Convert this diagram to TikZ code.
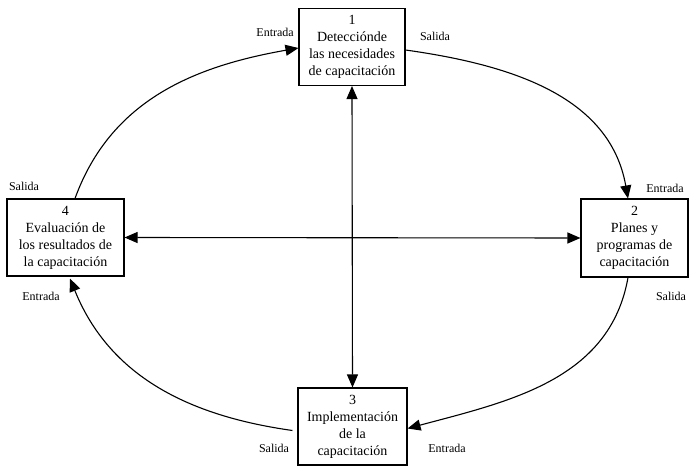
\documentclass[tikz,border=0pt]{standalone}
\usepackage{fontspec}
\setmainfont{Liberation Serif}
\usetikzlibrary{arrows.meta,calc}
\begin{document}
\begin{tikzpicture}[x=1pt,y=1pt,
  stage/.style={draw,line width=1.1pt,align=center,inner sep=0pt,
    font=\fontsize{14}{17}\selectfont},
  tag/.style={inner sep=0pt,font=\fontsize{12}{14}\selectfont},
  flow/.style={line width=1.1pt,-{Triangle[length=13pt,width=11pt]}},
  link/.style={line width=1.1pt,{Triangle[length=13pt,width=11pt]}-{Triangle[length=13pt,width=11pt]}}]
\useasboundingbox (0,0) rectangle (689,467);

% the four stages
\node[stage,minimum width=106pt,minimum height=77pt] (b1) at (352,420)
  {1\\Detecciónde\\las necesidades\\de capacitación};
\node[stage,minimum width=107pt,minimum height=78pt] (b2) at (634.5,229)
  {2\\Planes y\\programas de\\capacitación};
\node[stage,minimum width=109pt,minimum height=77pt] (b3) at (352.5,40.5)
  {3\\Implementación\\de la\\capacitación};
\node[stage,minimum width=117pt,minimum height=77pt] (b4) at (65.5,229.5)
  {4\\Evaluación de\\los resultados  de\\la capacitación};

% cross links through the centre
\draw[link] (b4.east) -- (b2.west);
\draw[link] (b1.south) -- (b3.north);

% cycle around the stages
\draw[flow] ($(b4.north)+(9.5,0)$) to[out=70,in=190] ($(b1.west)+(0,-1)$);
\draw[flow] ($(b1.east)+(0,-3)$) to[out=-8,in=100] ($(b2.north)+(-6.5,0)$);
\draw[flow] ($(b2.south)+(-6.5,0)$) to[out=-100,in=15] ($(b3.east)+(0,-2)$);
\draw[flow] ($(b3.west)+(-5,-4)$) to[out=172,in=-68] ($(b4.south)+(4.5,-2)$);

% input / output tags
\node[tag,anchor=east] (e1) at (294,435) {Entrada};
\node[tag] (s1) at (435,431) {Salida};
\node[tag] (e2) at (665,279) {Entrada};
\node[tag] (s2) at (671,171) {Salida};
\node[tag] (e3) at (447,19) {Entrada};
\node[tag] (s3) at (274,19) {Salida};
\node[tag] (s4) at (24,281) {Salida};
\node[tag] (e4) at (41,171) {Entrada};
\end{tikzpicture}
\end{document}
